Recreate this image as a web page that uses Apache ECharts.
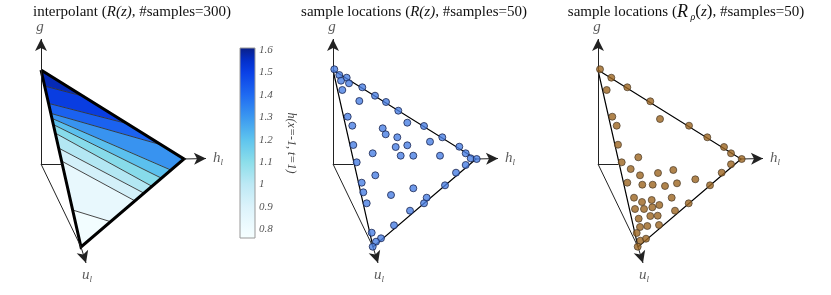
<!DOCTYPE html>
<html><head><meta charset="utf-8">
<script src="https://cdn.jsdelivr.net/npm/echarts@6/dist/echarts.min.js"></script>
<style>html,body{margin:0;padding:0;background:#fff}#c{width:831px;height:295px}</style>
</head><body><div id="c"></div>
<script>
// ---- data (chart-plane coordinates relative to each panel's axis origin, y up) ----
const triVertexG = [0, 94];
const triVertexH = [143, 5];
const triVertexU = [40, -83];
const axisTipG = [0, 125];
const axisTipH = [165, 5.5];
const axisTipU = [45, -99];
const axisHiddenH = [20.5, 0];
const axisNames = [[-1, 137, 'g'], [177, 6, 'h'], [46, -111, 'u']];

// interpolant contour lines: [start on left edge, end on right boundary]
const contourLines = [
  [[3.4, 78], [40, 68.4]],
  [[7.3, 60.7], [85, 40.7]],
  [[9.6, 50.7], [119.7, 19.3]],
  [[10.8, 45.7], [130, -6.1]],
  [[12.2, 39.5], [120.5, -14.2]],
  [[14.1, 31], [111, -22.3]],
  [[17.5, 16], [103, -29.2]],
  [[20.5, 3], [94, -36.9]],
  [[31.6, -46], [70, -57.8]]
];
// value of h(x=-1,t=1) in each band (top band first)
const contourBandValues = [1.57, 1.51, 1.42, 1.31, 1.21, 1.11, 1.02, 0.93, 0.84, 0.79];

const samplesR = [
  [1.3,94.7],[6.3,89],[13.7,86.3],[8,83.3],[16,80.7],[9.3,74],[29.3,76.7],[42,68.3],[53,62],[26.3,63],
  [65.3,53.3],[14.7,47.3],[19.3,38.3],[74.3,41.3],[91,38],[49.7,35.7],[52.7,29.7],[64.3,26.7],[109.3,26.7],[97,22.3],
  [20.3,19],[74.3,18.7],[62.7,17],[126.3,17.3],[39.7,10.7],[67.7,8.3],[80.3,8.3],[107,8.3],[132.7,10.7],[137.7,5.7],
  [143.7,5],[23.7,1.7],[132.7,-1],[123,-8.7],[42.3,-11.3],[28.7,-18.7],[112,-21.3],[30.3,-28.3],[80.3,-24.3],[58,-31],
  [93.7,-33.7],[33.7,-39.3],[91,-39.3],[77,-46.7],[61,-61.3],[38.7,-68.7],[48,-74.3],[43,-77.7],[39.7,-82.7]
];
const samplesRrho = [
  [2,94.7],[13.3,86.3],[8.7,74],[29.3,76.7],[52.3,62.7],[62,45],[14.3,47.3],[18.7,38.3],[91,38.3],[109.3,26.7],
  [126,17],[20,19.3],[40.3,6.7],[133,10.7],[143.7,5],[23.7,1.7],[133,-0.3],[32.7,-5],[75.3,-6],[60,-9],
  [42,-11.3],[123.7,-8.7],[97.3,-15.3],[29.3,-18.7],[44.3,-20.7],[54.7,-20.7],[67,-22],[79,-19.3],[112,-21.3],[36,-33.7],
  [44,-38],[53.7,-36],[73.7,-33.7],[61.3,-41],[54.3,-43.3],[37,-45],[46,-45],[90.7,-39.3],[77,-46.7],[52.3,-52],
  [59.7,-51.7],[40.7,-54.7],[42,-63],[49.3,-62],[61,-61],[38.7,-69],[42.3,-76.7],[48,-74.7],[39.7,-82.7]
];
const colorbarMin = 0.76, colorbarMax = 1.61;
const colorbarTicks = [0.8, 0.9, 1.0, 1.1, 1.2, 1.3, 1.4, 1.5, 1.6];

// ---- styling ----
const cmap = [
  [0.76,'#f6ffff'],[0.80,'#f0fcff'],[0.90,'#dcf3fb'],[1.00,'#bde9f5'],[1.10,'#8cdeea'],
  [1.20,'#5ec4ee'],[1.30,'#3b98f0'],[1.40,'#1f6af2'],[1.50,'#0a40e6'],[1.55,'#0430cc'],[1.61,'#0a1f86']
];
function hex(c){return [1,3,5].map(i=>parseInt(c.substr(i,2),16));}
function colormap(v){
  if (v<=cmap[0][0]) return cmap[0][1];
  for (let i=1;i<cmap.length;i++){
    if (v<=cmap[i][0]){
      const t=(v-cmap[i-1][0])/(cmap[i][0]-cmap[i-1][0]);
      const a=hex(cmap[i-1][1]), b=hex(cmap[i][1]);
      return 'rgb('+a.map((x,j)=>Math.round(x+(b[j]-x)*t)).join(',')+')';
    }
  }
  return cmap[cmap.length-1][1];
}
const SERIF = "'Liberation Serif', 'DejaVu Serif', serif";
const origins = [41, 333, 598];
const gridTop = 20, gridH = 260, originY = 164;

function bandPolygon(k){
  const n = contourLines.length;
  const a = k===0 ? [triVertexG, triVertexG] : contourLines[k-1];
  const b = k===n ? [triVertexU, triVertexU] : contourLines[k];
  const pts = [a[0], b[0], b[1]];
  if (a[1][1] > triVertexH[1] && b[1][1] < triVertexH[1]) pts.push(triVertexH);
  pts.push(a[1]);
  return pts;
}

const grids = [], xAxes = [], yAxes = [], series = [];
origins.forEach((ox, i) => {
  grids.push({left: ox-20, top: gridTop, width: 220, height: gridH});
  xAxes.push({type:'value', gridIndex:i, min:-20, max:200, show:false});
  yAxes.push({type:'value', gridIndex:i, min:originY-gridTop-gridH, max:originY-gridTop, show:false});
});
// colorbar grid
grids.push({left: 240, top: 48, width: 15, height: 190});
xAxes.push({type:'value', gridIndex:3, min:0, max:1, show:false});
yAxes.push({type:'value', gridIndex:3, min:colorbarMin, max:colorbarMax, position:'right',
  axisLine:{show:false}, axisTick:{show:false}, splitLine:{show:false},
  axisLabel:{customValues: colorbarTicks, formatter: v => String(+(+v).toFixed(1)), color:'#555',
    fontStyle:'italic', fontFamily:SERIF, fontSize:11, margin:4},
  name:'h(x=-1, t=1)', nameLocation:'middle', nameRotate:-90, nameGap:30,
  nameTextStyle:{fontStyle:'italic', fontFamily:SERIF, fontSize:12, color:'#444'}
});

// panel 1 filled contour bands
series.push({type:'custom', xAxisIndex:0, yAxisIndex:0, z:2, silent:true,
  data: contourBandValues.map((v,i)=>[i,0]),
  renderItem:(p, api)=>{
    const k = api.value(0);
    const pts = bandPolygon(k).map(q=>api.coord(q));
    const c = colormap(contourBandValues[k]);
    return {type:'polygon', shape:{points:pts}, style:{fill:c, stroke:c, lineWidth:0.6}};
  }});
series.push({type:'custom', xAxisIndex:0, yAxisIndex:0, z:3, silent:true,
  data: contourLines.map((l,i)=>[i,0]),
  renderItem:(p, api)=>{
    const l = contourLines[api.value(0)];
    const a = api.coord(l[0]), b = api.coord(l[1]);
    return {type:'line', shape:{x1:a[0],y1:a[1],x2:b[0],y2:b[1]}, style:{stroke:'#333', lineWidth:0.9}};
  }});

origins.forEach((ox, i) => {
  const thick = i===0;
  series.push({type:'line', xAxisIndex:i, yAxisIndex:i, z:4, silent:true, symbol:'none',
    data:[triVertexG, triVertexH, triVertexU, triVertexG],
    lineStyle:{color:'#000', width: thick?3:1.2, join:'miter', miterLimit:10},
    markLine:{silent:true, symbol:['none','arrow'], symbolSize:[9,12],
      lineStyle:{color:'#222', width:1, type:'solid'}, label:{show:false},
      data:[
        [{coord:[0,0]},{coord:axisTipG}],
        [{coord:[0,0]},{coord:axisHiddenH, symbol:'none'}],
        [{coord:triVertexH},{coord:axisTipH}],
        [{coord:[0,0]},{coord:triVertexU, symbol:'none'}],
        [{coord:triVertexU},{coord:axisTipU}]
      ]}
  });
  series.push({type:'scatter', xAxisIndex:i, yAxisIndex:i, z:6, silent:true, symbolSize:1,
    itemStyle:{color:'rgba(0,0,0,0)'},
    data: axisNames,
    label:{show:true, position:'inside', color:'#333',
      formatter: p => p.value[2]==='g' ? '{m|g}' : '{m|'+p.value[2]+'}{s|l}',
      rich:{m:{fontFamily:SERIF, fontStyle:'italic', fontSize:15, lineHeight:18, color:'#333'},
            s:{fontFamily:SERIF, fontStyle:'italic', fontSize:9, lineHeight:18, verticalAlign:'bottom', color:'#333'}}}
  });
});
series.push({type:'scatter', xAxisIndex:1, yAxisIndex:1, z:5, silent:true, symbolSize:7,
  itemStyle:{color:'#4a7fe3', borderColor:'#1a2550', borderWidth:1}, data: samplesR});
series.push({type:'scatter', xAxisIndex:2, yAxisIndex:2, z:5, silent:true, symbolSize:7,
  itemStyle:{color:'#9c6520', borderColor:'#4a3a28', borderWidth:0.9}, data: samplesRrho});

// colorbar
series.push({type:'custom', xAxisIndex:3, yAxisIndex:3, silent:true, data:[[0,colorbarMin]],
  renderItem:(p, api)=>{
    const a = api.coord([0, colorbarMax]), b = api.coord([1, colorbarMin]);
    const stops = cmap.map(([v,c])=>({offset:(colorbarMax-v)/(colorbarMax-colorbarMin), color:c})).reverse();
    return {type:'rect', shape:{x:a[0], y:a[1], width:b[0]-a[0], height:b[1]-a[1]},
      style:{fill:new echarts.graphic.LinearGradient(0,0,0,1,stops), stroke:'#999', lineWidth:1}};
  }});

const titleStyle = {fontFamily:SERIF, fontSize:15, fontWeight:'normal', color:'#111',
  rich:{
    i:{fontFamily:SERIF, fontStyle:'italic', fontSize:15, color:'#111', lineHeight:20},
    n:{fontFamily:SERIF, fontSize:15, color:'#111', lineHeight:20},
    R:{fontFamily:SERIF, fontStyle:'italic', fontSize:18, color:'#111', lineHeight:20},
    rho:{fontFamily:SERIF, fontStyle:'italic', fontSize:10, color:'#111', lineHeight:20, verticalAlign:'bottom'},
    z:{fontFamily:SERIF, fontSize:17, color:'#111', lineHeight:20}
  }};
const chart = echarts.init(document.getElementById('c'));
chart.setOption({
  animation:false,
  title:[
    {text:'{n|interpolant (}{i|R(z)}{n|, #samples=300)}', left:132, top:2, textAlign:'center', padding:0, textStyle:titleStyle},
    {text:'{n|sample locations (}{i|R(z)}{n|, #samples=50)}', left:414, top:2, textAlign:'center', padding:0, textStyle:titleStyle},
    {text:'{n|sample locations (}{R|R}{rho| ρ}{z|(}{i|z}{z|)}{n|, #samples=50)}', left:686, top:2, textAlign:'center', padding:0, textStyle:titleStyle}
  ],
  grid: grids, xAxis: xAxes, yAxis: yAxes, series: series
});
</script></body></html>
